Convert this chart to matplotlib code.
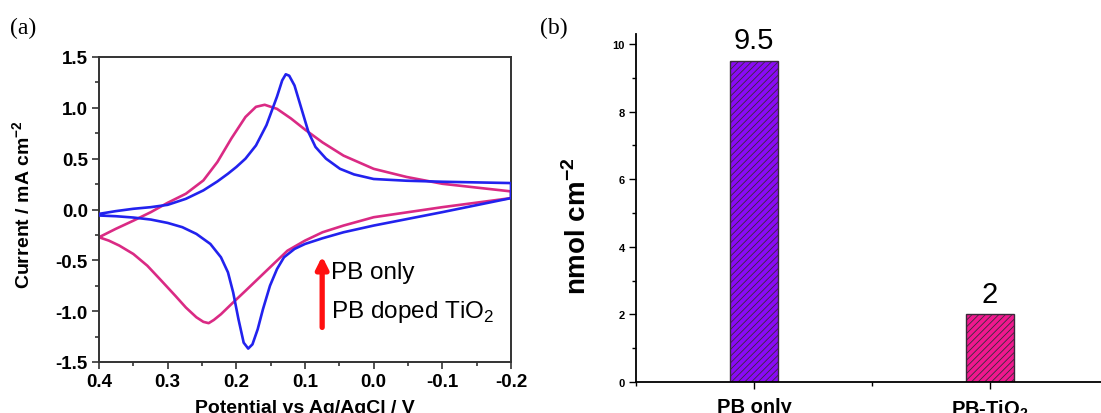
import matplotlib
matplotlib.use("Agg")
import matplotlib.pyplot as plt
from matplotlib.ticker import MultipleLocator
import numpy as np

plt.rcParams['font.family'] = ['Liberation Sans', 'DejaVu Sans']
plt.rcParams['mathtext.fontset'] = 'custom'
plt.rcParams['mathtext.rm'] = 'Liberation Sans'
plt.rcParams['mathtext.bf'] = 'Liberation Sans:bold'
plt.rcParams['hatch.linewidth'] = 0.6

# ---- (a) cyclic voltammograms ----
# blue loop: upper branch 0.4 -> -0.2, then lower branch back to 0.4
blue_x = [0.4, 0.3755, 0.35, 0.3245, 0.3, 0.2735, 0.248, 0.2276, 0.2122, 0.2, 0.1867,
          0.1714, 0.1561, 0.1408, 0.1332, 0.128, 0.123, 0.1153, 0.1051, 0.0949, 0.0847,
          0.0694, 0.049, 0.0286, 0.0, -0.048, -0.1, -0.2,
          -0.2, -0.1, 0.0, 0.0439, 0.0745, 0.1, 0.1153, 0.1306, 0.1408, 0.151, 0.1612,
          0.1689, 0.1765, 0.1827, 0.1893, 0.1969, 0.2046, 0.2122, 0.2224, 0.2378, 0.2582,
          0.2786, 0.3, 0.3245, 0.35, 0.3755, 0.4]
blue_y = [-0.043, -0.016, 0.007, 0.023, 0.046, 0.105, 0.188, 0.276, 0.352, 0.418, 0.5,
          0.63, 0.83, 1.11, 1.27, 1.33, 1.316, 1.22, 0.99, 0.76, 0.615,
          0.5, 0.40, 0.345, 0.30, 0.283, 0.273, 0.26,
          0.112, -0.026, -0.158, -0.224, -0.283, -0.339, -0.388, -0.47, -0.586, -0.75, -0.98,
          -1.178, -1.326, -1.368, -1.31, -1.079, -0.816, -0.618, -0.47, -0.339, -0.24,
          -0.174, -0.132, -0.099, -0.079, -0.066, -0.059]

pink_x = [0.4, 0.3755, 0.35, 0.3245, 0.3, 0.2735, 0.248, 0.2276, 0.2071, 0.1867, 0.1714,
          0.1587, 0.1408, 0.1204, 0.1, 0.0745, 0.0439, 0.0, -0.048, -0.1, -0.2,
          -0.2, -0.1, 0.0, 0.0439, 0.0745, 0.1, 0.1255, 0.1459, 0.1663, 0.1867, 0.2071,
          0.2224, 0.2327, 0.2403, 0.248, 0.2582, 0.2735, 0.2888, 0.3092, 0.3296, 0.35,
          0.3704, 0.3857, 0.4]
pink_y = [-0.273, -0.19, -0.11, -0.026, 0.066, 0.155, 0.286, 0.467, 0.70, 0.91, 1.01,
          1.03, 0.99, 0.895, 0.786, 0.66, 0.53, 0.40, 0.32, 0.253, 0.178,
          0.112, 0.023, -0.076, -0.158, -0.224, -0.306, -0.405, -0.536, -0.668, -0.80, -0.93,
          -1.03, -1.086, -1.118, -1.105, -1.06, -0.964, -0.849, -0.70, -0.553, -0.4375,
          -0.355, -0.306, -0.273]

# ---- (b) surface coverage ----
samples = ["PB only", r"PB-TiO$_\mathbf{2}$"]
coverage = [9.5, 2]
coverage_labels = ["9.5", "2"]
bar_colors = ["#8A0AF5", "#F0188E"]

blue = "#2222EE"
pink = "#DA2A84"
axcol = "#333333"

fig = plt.figure(figsize=(11.01, 4.14), dpi=100)

# panel (a)
ax1 = fig.add_axes([99 / 1101, 51 / 414, 412 / 1101, 305 / 414])
ax1.plot(blue_x, blue_y, color=blue, lw=1.9, zorder=3)
ax1.plot(pink_x, pink_y, color=pink, lw=1.9, zorder=2)
ax1.xaxis.set_major_locator(MultipleLocator(0.1))
ax1.xaxis.set_minor_locator(MultipleLocator(0.05))
ax1.yaxis.set_major_locator(MultipleLocator(0.5))
ax1.yaxis.set_minor_locator(MultipleLocator(0.25))
ax1.tick_params(which='both', direction='out', color=axcol, width=1.2)
ax1.tick_params(which='major', length=5, labelsize=13.5, pad=3)
ax1.tick_params(which='minor', length=3)
for sp in ax1.spines.values():
    sp.set_color(axcol)
    sp.set_linewidth(1.4)
ax1.set_xlim(0.4, -0.2)
ax1.set_ylim(-1.5, 1.5)
ax1.set_xticks(np.arange(-0.2, 0.41, 0.1))
ax1.set_yticks(np.arange(-1.5, 1.51, 0.5))
ax1.set_xticklabels([f"{v:.1f}" if abs(v) > 1e-9 else "0.0" for v in ax1.get_xticks()],
                    fontweight='bold')
ax1.set_yticklabels([f"{v:.1f}" if abs(v) > 1e-9 else "0.0" for v in ax1.get_yticks()],
                    fontweight='bold')
ax1.set_xlim(0.4, -0.2)
ax1.set_ylim(-1.5, 1.5)
ax1.set_ylabel(r"Current / mA cm$^{\mathbf{-2}}$", fontsize=14, fontweight='bold')
ax1.yaxis.set_label_coords(-0.158, 0.52)
ax1.set_xlabel("Potential vs Ag/AgCl / V", fontsize=14, fontweight='bold', va='top')
ax1.xaxis.set_label_coords(0.5, -0.12)

ax1.annotate("", xy=(0.075, -0.46), xytext=(0.075, -1.16),
             arrowprops=dict(arrowstyle="-|>,head_width=0.35,head_length=0.7",
                             color="#FF1010", lw=3.8, shrinkA=0, shrinkB=0))
ax1.text(0.062, -0.615, "PB only", fontsize=17.5, va='center', ha='left')
ax1.text(0.062, -1.0, r"PB doped TiO$_2$", fontsize=17.5, va='center', ha='left')

fig.text(10 / 1101, 1 - 28 / 414, "(a)", fontsize=17, family='Liberation Serif', va='center')
fig.text(540 / 1101, 1 - 28 / 414, "(b)", fontsize=17, family='Liberation Serif', va='center')

# panel (b)
ax2 = fig.add_axes([636 / 1101, 31 / 414, 465 / 1101, 348 / 414])
pos = np.arange(len(samples))
bars = ax2.bar(pos, coverage, width=0.2, color=bar_colors, edgecolor="#3a2a3a",
               linewidth=1.0, hatch="/////")
for b, txt, val in zip(bars, coverage_labels, coverage):
    ax2.text(b.get_x() + b.get_width() / 2, val + 0.2, txt, ha='center', va='bottom',
             fontsize=21)
ax2.set_xlim(-0.5, 1.47)
ax2.set_ylim(0, 10.3)
ax2.set_xticks(pos)
ax2.set_xticklabels(samples, fontsize=14.5, fontweight='bold')
ax2.xaxis.set_minor_locator(MultipleLocator(0.5))
ax2.yaxis.set_major_locator(MultipleLocator(2))
ax2.yaxis.set_minor_locator(MultipleLocator(1))
ax2.tick_params(which='both', direction='out', color='black', width=1.0)
ax2.tick_params(axis='y', which='major', length=5, labelsize=8, pad=3)
ax2.tick_params(axis='x', which='major', length=5, pad=6)
ax2.tick_params(which='minor', length=3)
for lab in ax2.get_yticklabels():
    lab.set_fontweight('bold')
ax2.spines['top'].set_visible(False)
ax2.spines['right'].set_visible(False)
ax2.spines['left'].set_linewidth(1.3)
ax2.spines['bottom'].set_linewidth(1.3)
ax2.set_ylabel(r"nmol cm$^{\mathbf{-2}}$", fontsize=20, fontweight='bold')
ax2.yaxis.set_label_coords(-0.095, 0.451)

fig.savefig("out.png", dpi=100)
